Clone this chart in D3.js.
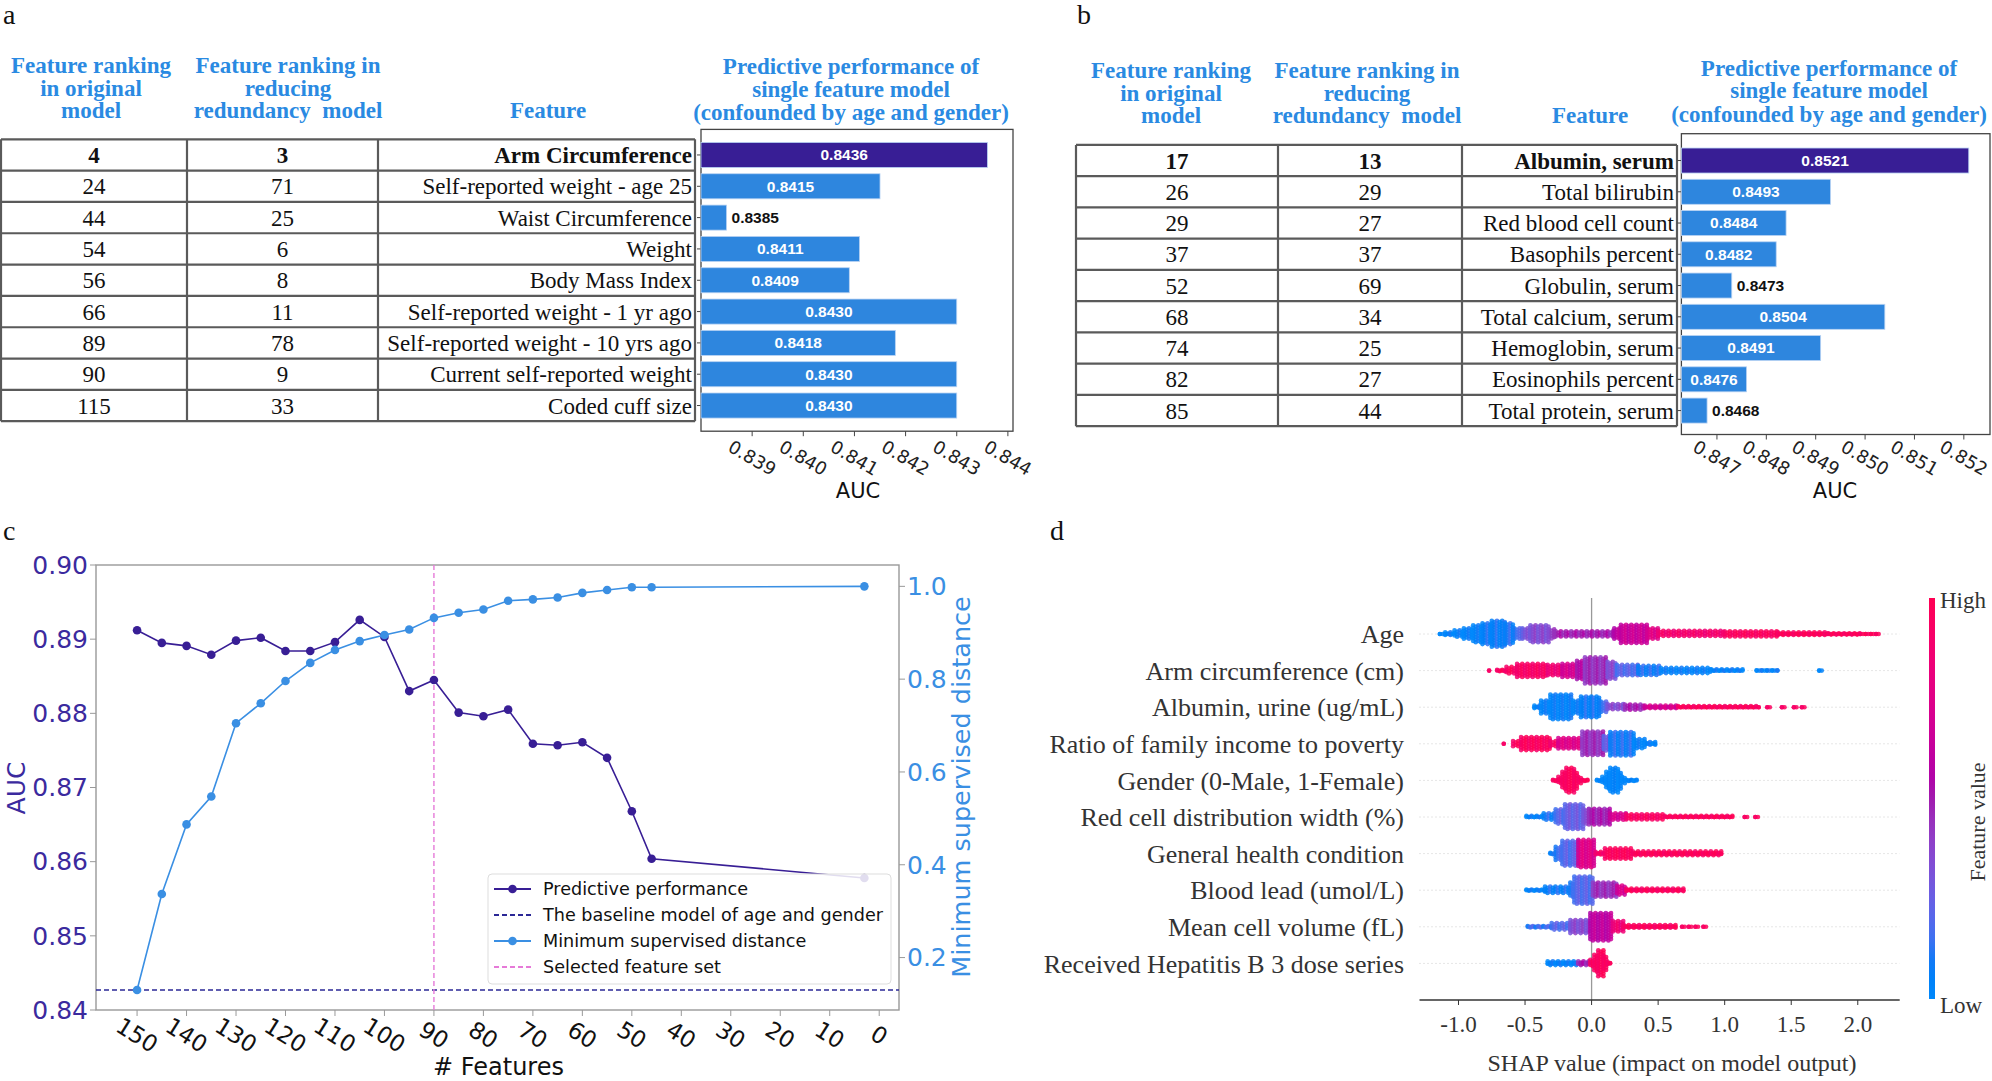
<!DOCTYPE html>
<html>
<head>
<meta charset="utf-8">
<script src="https://cdn.jsdelivr.net/npm/d3@7"></script>
<style>
  body { margin: 0; background: #fff; }
  svg { display: block; }
</style>
</head>
<body>
<svg id="fig" width="1992" height="1081"></svg>
<script>
// ---- panel a : table + single feature AUC
const rankOrigA = [4, 24, 44, 54, 56, 66, 89, 90, 115];
const rankRedA = [3, 71, 25, 6, 8, 11, 78, 9, 33];
const featA = ["Arm Circumference", "Self-reported weight - age 25", "Waist Circumference", "Weight",
  "Body Mass Index", "Self-reported weight - 1 yr ago", "Self-reported weight - 10 yrs ago",
  "Current self-reported weight", "Coded cuff size"];
const aucA = [0.8436, 0.8415, 0.8385, 0.8411, 0.8409, 0.8430, 0.8418, 0.8430, 0.8430];
const ticksA = [0.839, 0.840, 0.841, 0.842, 0.843, 0.844];
const domainA = [0.838, 0.8441];

// ---- panel b
const rankOrigB = [17, 26, 29, 37, 52, 68, 74, 82, 85];
const rankRedB = [13, 29, 27, 37, 69, 34, 25, 27, 44];
const featB = ["Albumin, serum", "Total bilirubin", "Red blood cell count", "Basophils percent",
  "Globulin, serum", "Total calcium, serum", "Hemoglobin, serum", "Eosinophils percent", "Total protein, serum"];
const aucB = [0.8521, 0.8493, 0.8484, 0.8482, 0.8473, 0.8504, 0.8491, 0.8476, 0.8468];
const ticksB = [0.847, 0.848, 0.849, 0.850, 0.851, 0.852];
const domainB = [0.84628, 0.85253];

const headCol1 = ["Feature ranking", "in original", "model"];
const headCol2 = ["Feature ranking in", "reducing", "redundancy  model"];
const headPred = ["Predictive performance of", "single feature model", "(confounded by age and gender)"];

// ---- panel c : feature elimination curve
const nFeatures = [150, 145, 140, 135, 130, 125, 120, 115, 110, 105, 100, 95, 90, 85, 80, 75, 70, 65, 60, 55, 50, 46, 3];
const aucCurve = [0.8912, 0.8895, 0.8891, 0.8879, 0.8898, 0.8902, 0.8884, 0.8884, 0.8896, 0.8926, 0.8903,
  0.8830, 0.8845, 0.8801, 0.8796, 0.8805, 0.8759, 0.8757, 0.8761, 0.8740, 0.8668, 0.8604, 0.8578];
const minDist = [0.130, 0.337, 0.487, 0.547, 0.705, 0.748, 0.796, 0.835, 0.863, 0.882, 0.895,
  0.907, 0.932, 0.943, 0.950, 0.969, 0.972, 0.976, 0.986, 0.992, 0.998, 0.998, 1.0];
const baselineAuc = 0.8427;
const selectedN = 90;
const aucTicks = [0.84, 0.85, 0.86, 0.87, 0.88, 0.89, 0.90];
const distTicks = [0.2, 0.4, 0.6, 0.8, 1.0];
const featTicks = [150, 140, 130, 120, 110, 100, 90, 80, 70, 60, 50, 40, 30, 20, 10, 0];
const legendC = ["Predictive performance", "The baseline model of age and gender", "Minimum supervised distance", "Selected feature set"];

// ---- panel d : SHAP summary, density profile read per feature
// segment = [shap from, shap to, half thickness (px), feature value 0..1]
const shapFeatures = ["Age", "Arm circumference (cm)", "Albumin, urine (ug/mL)", "Ratio of family income to poverty",
  "Gender (0-Male, 1-Female)", "Red cell distribution width (%)", "General health condition",
  "Blood lead (umol/L)", "Mean cell volume (fL)", "Received Hepatitis B 3 dose series"];
const shapProfiles = [
  [[-1.14, -1.10, 2, 0.05], [-1.10, -1.03, 4, 0.05], [-1.03, -0.96, 6, 0.05], [-0.96, -0.89, 8, 0.05],
   [-0.89, -0.82, 11, 0.05], [-0.82, -0.75, 13, 0.08], [-0.75, -0.65, 15.5, 0.08], [-0.65, -0.58, 13, 0.1],
   [-0.58, -0.52, 8, 0.15], [-0.52, -0.46, 8, 0.3], [-0.46, -0.32, 11, 0.35], [-0.32, -0.27, 7, 0.4],
   [-0.27, 0.17, 5, 0.5], [0.17, 0.22, 8, 0.6], [0.22, 0.42, 11.5, 0.65], [0.42, 0.5, 8, 0.75],
   [0.5, 1.0, 5.5, 0.88], [1.0, 1.4, 5, 0.95], [1.4, 1.78, 4, 0.97], [1.78, 2.02, 3, 0.97], [2.02, 2.17, 2, 0.97]],
  [[-0.77, -0.76, 2, 0.97], [-0.71, -0.64, 3, 0.95], [-0.64, -0.56, 6, 0.95], [-0.56, -0.33, 9, 0.92],
   [-0.33, -0.22, 8, 0.85], [-0.22, -0.11, 9, 0.7], [-0.11, -0.05, 12, 0.55], [-0.05, 0.12, 15.5, 0.45],
   [0.12, 0.19, 11, 0.35], [0.19, 0.35, 8, 0.2], [0.35, 0.52, 7, 0.1], [0.52, 0.9, 5, 0.05],
   [0.9, 1.15, 3.5, 0.05], [1.24, 1.40, 2.5, 0.05], [1.71, 1.73, 2, 0.05]],
  [[-0.43, -0.38, 4, 0.05], [-0.38, -0.31, 9, 0.05], [-0.31, -0.14, 15, 0.05], [-0.14, -0.08, 9, 0.05],
   [-0.08, 0.07, 13, 0.08], [0.07, 0.12, 8, 0.15], [0.12, 0.25, 5.5, 0.35], [0.25, 0.4, 5, 0.5],
   [0.4, 0.65, 4, 0.7], [0.65, 1.27, 3.5, 0.95], [1.32, 1.34, 2, 0.95], [1.43, 1.45, 2, 0.95],
   [1.52, 1.54, 2, 0.95], [1.58, 1.60, 2, 0.95]],
  [[-0.66, -0.65, 2, 0.97], [-0.59, -0.53, 5, 0.95], [-0.53, -0.31, 9, 0.95], [-0.31, -0.25, 5, 0.9],
   [-0.25, -0.07, 8, 0.75], [-0.07, 0.09, 14.5, 0.45], [0.09, 0.14, 10, 0.25], [0.14, 0.32, 14, 0.1],
   [0.32, 0.4, 7, 0.05], [0.4, 0.48, 4, 0.05]],
  [[-0.29, -0.25, 3, 0.97], [-0.25, -0.22, 6, 0.97], [-0.22, -0.19, 11, 0.97], [-0.19, -0.13, 15, 0.97],
   [-0.13, -0.10, 11, 0.97], [-0.10, -0.07, 6, 0.97], [-0.07, -0.03, 3, 0.97],
   [0.04, 0.08, 3, 0.03], [0.08, 0.11, 6, 0.03], [0.11, 0.14, 11, 0.03], [0.14, 0.20, 15, 0.03],
   [0.20, 0.23, 11, 0.03], [0.23, 0.26, 6, 0.03], [0.26, 0.34, 3, 0.03]],
  [[-0.49, -0.36, 3.5, 0.05], [-0.36, -0.27, 6, 0.1], [-0.27, -0.2, 10, 0.2], [-0.2, -0.06, 15, 0.25],
   [-0.06, -0.02, 10, 0.35], [-0.02, 0.14, 10.5, 0.5], [0.14, 0.26, 6, 0.7], [0.26, 0.55, 5, 0.93],
   [0.55, 1.06, 3.5, 0.96], [1.15, 1.17, 2, 0.97], [1.23, 1.25, 2, 0.97]],
  [[-0.31, -0.27, 3, 0.1], [-0.27, -0.22, 9, 0.15], [-0.22, -0.1, 15, 0.2], [-0.1, 0.03, 16, 0.75],
   [0.03, 0.1, 4, 0.9], [0.1, 0.31, 7.5, 0.97], [0.31, 0.99, 4.5, 0.97]],
  [[-0.49, -0.35, 3, 0.05], [-0.35, -0.16, 6, 0.08], [-0.16, -0.13, 10, 0.15], [-0.13, 0.01, 16, 0.2],
   [0.01, 0.19, 10, 0.45], [0.19, 0.26, 7, 0.7], [0.26, 0.69, 4, 0.95]],
  [[-0.48, -0.3, 3, 0.15], [-0.3, -0.16, 6, 0.2], [-0.16, -0.01, 9, 0.35], [-0.01, 0.16, 16, 0.6],
   [0.16, 0.24, 8, 0.85], [0.24, 0.64, 4, 0.95], [0.68, 0.70, 2, 0.97], [0.73, 0.75, 2, 0.97],
   [0.78, 0.80, 2, 0.97], [0.84, 0.86, 2, 0.97]],
  [[-0.33, -0.1, 4.5, 0.05], [-0.1, -0.01, 4.5, 0.5], [-0.01, 0.02, 6, 0.97], [0.02, 0.05, 11, 0.97],
   [0.05, 0.09, 15.5, 0.97], [0.09, 0.12, 10, 0.97], [0.12, 0.15, 4, 0.97]]
];
const shapTicks = [-1.0, -0.5, 0.0, 0.5, 1.0, 1.5, 2.0];

// colours / fonts
const headBlue = "#2a8ae2";
const barBlue = "#2e86de";
const darkPurple = "#381e95";
const curveBlue = "#3a8fe3";
const serif = "Liberation Serif, serif";
const sans = "DejaVu Sans, sans-serif";

// shap style red-blue map: lightness dips in the middle
function shapColor(t) {
  t = Math.max(0, Math.min(1, t));
  const l = t < 0.5 ? 54 - 28 * t : 40 + 28 * (t - 0.5);
  const c = 70 + 20 * t;
  const h = 267 + 113 * t;
  return d3.hcl(h, c, l).formatHex();
}

const svg = d3.select("#fig");
svg.append("rect").attr("width", 1992).attr("height", 1081).attr("fill", "#fff");

function panelLetter(x, y, t) {
  svg.append("text").attr("x", x).attr("y", y).attr("font-family", serif)
    .attr("font-size", 28).attr("fill", "#111").text(t);
}

// table + bar panel (a and b)
function drawTablePanel(o) {
  const g = svg.append("g");
  const rowH = (o.tBot - o.tTop) / o.feat.length;

  // column headers
  const hdr = (lines, x, ys) => lines.forEach((l, i) => {
    g.append("text").attr("x", x).attr("y", ys[i]).attr("dy", "0.35em")
      .attr("text-anchor", "middle").attr("font-family", serif).attr("font-weight", "bold")
      .attr("font-size", 23).attr("fill", headBlue).style("white-space", "pre").text(l);
  });
  hdr(headCol1, o.hx[0], o.hy);
  hdr(headCol2, o.hx[1], o.hy);
  hdr(["Feature"], o.hx[2], [o.hy[2]]);
  hdr(headPred, o.hx[3], o.py);

  // table grid
  const cols = o.colX;
  for (let i = 0; i <= o.feat.length; i++) {
    g.append("line").attr("x1", cols[0]).attr("x2", cols[3])
      .attr("y1", o.tTop + i * rowH).attr("y2", o.tTop + i * rowH)
      .attr("stroke", "#5a5a5a").attr("stroke-width", 2.2);
  }
  cols.forEach(cx => {
    g.append("line").attr("x1", cx).attr("x2", cx).attr("y1", o.tTop).attr("y2", o.tBot)
      .attr("stroke", "#5a5a5a").attr("stroke-width", 2.2);
  });
  o.feat.forEach((f, i) => {
    const cy = o.tTop + (i + 0.5) * rowH;
    const w = i === 0 ? "bold" : "normal";
    const cell = (x, anchor, t) => g.append("text").attr("x", x).attr("y", cy).attr("dy", "0.35em")
      .attr("text-anchor", anchor).attr("font-family", serif).attr("font-size", 23)
      .attr("font-weight", w).attr("fill", "#111").text(t);
    cell((cols[0] + cols[1]) / 2, "middle", o.r1[i]);
    cell((cols[1] + cols[2]) / 2, "middle", o.r2[i]);
    cell(cols[3] - 3, "end", f);
  });

  // bar axes
  const x = d3.scaleLinear().domain(o.domain).range([o.fL, o.fR]);
  const y = d3.scaleBand().domain(d3.range(o.feat.length)).range([o.tTop, o.tBot])
    .paddingInner(0.2).paddingOuter(0.1);
  g.append("rect").attr("x", o.fL).attr("y", o.fT).attr("width", o.fR - o.fL).attr("height", o.fB - o.fT)
    .attr("fill", "none").attr("stroke", "#444").attr("stroke-width", 1.3);
  o.auc.forEach((v, i) => {
    const yy = y(i), bw = x(v) - x(o.domain[0]);
    g.append("line").attr("x1", o.fL - 4).attr("x2", o.fL).attr("y1", yy + y.bandwidth() / 2)
      .attr("y2", yy + y.bandwidth() / 2).attr("stroke", "#444");
    g.append("rect").attr("x", x(o.domain[0])).attr("y", yy).attr("width", bw).attr("height", y.bandwidth())
      .attr("fill", i === 0 ? darkPurple : barBlue).attr("stroke", "#b9d3f3").attr("stroke-width", 0.8);
    const lab = v.toFixed(4);
    const inside = bw > 62;
    g.append("text").attr("x", inside ? x(o.domain[0]) + bw / 2 : x(v) + 5)
      .attr("y", yy + y.bandwidth() / 2).attr("dy", "0.35em")
      .attr("text-anchor", inside ? "middle" : "start").attr("font-family", "Liberation Sans, Arial, sans-serif")
      .attr("font-weight", "bold").attr("font-size", 15.5).attr("fill", inside ? "#fff" : "#111").text(lab);
  });
  o.ticks.forEach(t => {
    g.append("line").attr("x1", x(t)).attr("x2", x(t)).attr("y1", o.fB).attr("y2", o.fB + 5)
      .attr("stroke", "#444");
    g.append("text").attr("transform", `translate(${x(t)},458) rotate(30)`)
      .attr("text-anchor", "middle").attr("dy", "0.35em").attr("font-family", sans)
      .attr("font-size", 18).attr("fill", "#222").text(t.toFixed(3));
  });
  g.append("text").attr("x", o.aucX).attr("y", 491).attr("dy", "0.35em").attr("text-anchor", "middle")
    .attr("font-family", sans).attr("font-size", 21).attr("fill", "#111").text("AUC");
}

panelLetter(3, 24, "a");
drawTablePanel({
  feat: featA, r1: rankOrigA, r2: rankRedA, auc: aucA, ticks: ticksA, domain: domainA,
  colX: [1, 187, 378, 695], tTop: 139.3, tBot: 421.2,
  fL: 701, fR: 1013, fT: 129.4, fB: 431.2,
  hx: [91, 288, 548, 851], hy: [64.7, 87.9, 110.4], py: [66.3, 88.9, 112.1], aucX: 858
});
panelLetter(1077, 24, "b");
drawTablePanel({
  feat: featB, r1: rankOrigB, r2: rankRedB, auc: aucB, ticks: ticksB, domain: domainB,
  colX: [1076, 1278, 1462, 1677], tTop: 144.9, tBot: 426.2,
  fL: 1681.4, fR: 1990, fT: 133.7, fB: 434.5,
  hx: [1171, 1367, 1590, 1829], hy: [70.3, 92.9, 115.4], py: [68, 90.2, 114.4], aucX: 1835
});

// ---- panel c
panelLetter(3, 540, "c");
(function () {
  const g = svg.append("g");
  const L = 96, R = 899, T = 565, B = 1010;
  const x = d3.scaleLinear().domain([158.3, -4]).range([L, R]);
  const yL = d3.scaleLinear().domain([0.84, 0.90]).range([B, T]);
  const yR = d3.scaleLinear().domain([0.087, 1.046]).range([B, T]);

  g.append("rect").attr("x", L).attr("y", T).attr("width", R - L).attr("height", B - T)
    .attr("fill", "none").attr("stroke", "#999").attr("stroke-width", 1.4);

  aucTicks.forEach(t => {
    g.append("line").attr("x1", L - 6).attr("x2", L).attr("y1", yL(t)).attr("y2", yL(t)).attr("stroke", "#999");
    g.append("text").attr("x", L - 8).attr("y", yL(t)).attr("dy", "0.35em").attr("text-anchor", "end")
      .attr("font-family", sans).attr("font-size", 25).attr("fill", "#3b2a9e").text(t.toFixed(2));
  });
  distTicks.forEach(t => {
    g.append("line").attr("x1", R).attr("x2", R + 6).attr("y1", yR(t)).attr("y2", yR(t)).attr("stroke", "#999");
    g.append("text").attr("x", R + 8).attr("y", yR(t)).attr("dy", "0.35em").attr("text-anchor", "start")
      .attr("font-family", sans).attr("font-size", 25).attr("fill", curveBlue).text(t.toFixed(1));
  });
  featTicks.forEach(t => {
    g.append("line").attr("x1", x(t)).attr("x2", x(t)).attr("y1", B).attr("y2", B + 6).attr("stroke", "#999");
    g.append("text").attr("transform", `translate(${x(t)},${B + 25}) rotate(32)`).attr("dy", "0.35em")
      .attr("text-anchor", "middle").attr("font-family", sans).attr("font-size", 23).attr("fill", "#111").text(t);
  });
  g.append("text").attr("x", (L + R) / 2 + 1).attr("y", 1067).attr("dy", "0.35em").attr("text-anchor", "middle")
    .attr("font-family", sans).attr("font-size", 24).attr("fill", "#111").text("# Features");
  g.append("text").attr("transform", `translate(16,788) rotate(-90)`).attr("dy", "0.35em")
    .attr("text-anchor", "middle").attr("font-family", sans).attr("font-size", 25)
    .attr("fill", "#3b2a9e").text("AUC");
  g.append("text").attr("transform", `translate(961,787) rotate(-90)`).attr("dy", "0.35em")
    .attr("text-anchor", "middle").attr("font-family", sans).attr("font-size", 25.5)
    .attr("fill", curveBlue).text("Minimum supervised distance");

  // baseline and selected set
  g.append("line").attr("x1", L).attr("x2", R).attr("y1", yL(baselineAuc)).attr("y2", yL(baselineAuc))
    .attr("stroke", "#2b2896").attr("stroke-width", 1.6).attr("stroke-dasharray", "5,3");
  g.append("line").attr("x1", x(selectedN)).attr("x2", x(selectedN)).attr("y1", T).attr("y2", B)
    .attr("stroke", "#e67ad8").attr("stroke-width", 1.4).attr("stroke-dasharray", "5,3");

  const lineAuc = d3.line().x((d, i) => x(nFeatures[i])).y(d => yL(d));
  const lineDist = d3.line().x((d, i) => x(nFeatures[i])).y(d => yR(d));
  g.append("path").attr("d", lineAuc(aucCurve)).attr("fill", "none").attr("stroke", darkPurple).attr("stroke-width", 1.6);
  g.selectAll(".pa").data(aucCurve).enter().append("circle")
    .attr("cx", (d, i) => x(nFeatures[i])).attr("cy", d => yL(d)).attr("r", 4.3).attr("fill", darkPurple);
  g.append("path").attr("d", lineDist(minDist)).attr("fill", "none").attr("stroke", curveBlue).attr("stroke-width", 1.6);
  g.selectAll(".pd").data(minDist).enter().append("circle")
    .attr("cx", (d, i) => x(nFeatures[i])).attr("cy", d => yR(d)).attr("r", 4.3).attr("fill", curveBlue);

  // legend
  const lg = g.append("g");
  lg.append("rect").attr("x", 488).attr("y", 874).attr("width", 403).attr("height", 110).attr("rx", 4)
    .attr("fill", "#fff").attr("fill-opacity", 0.85).attr("stroke", "#ddd");
  const styles = [
    { c: darkPurple, dash: null, m: true },
    { c: "#2b2896", dash: "5,3", m: false },
    { c: curveBlue, dash: null, m: true },
    { c: "#e67ad8", dash: "5,3", m: false }
  ];
  legendC.forEach((t, i) => {
    const yy = 889 + i * 26;
    lg.append("line").attr("x1", 494).attr("x2", 531).attr("y1", yy).attr("y2", yy)
      .attr("stroke", styles[i].c).attr("stroke-width", 1.8).attr("stroke-dasharray", styles[i].dash);
    if (styles[i].m) lg.append("circle").attr("cx", 512.5).attr("cy", yy).attr("r", 4.3).attr("fill", styles[i].c);
    lg.append("text").attr("x", 543).attr("y", yy).attr("dy", "0.35em").attr("font-family", sans)
      .attr("font-size", 17.6).attr("fill", "#111").text(t);
  });
})();

// ---- panel d
panelLetter(1050, 540, "d");
(function () {
  const g = svg.append("g");
  const x = d3.scaleLinear().domain([-1.293, 2.315]).range([1419.5, 1899.7]);
  const y = d3.scalePoint().domain(shapFeatures).range([634, 963.4]);

  shapFeatures.forEach(f => {
    g.append("line").attr("x1", 1419.5).attr("x2", 1899.7).attr("y1", y(f)).attr("y2", y(f))
      .attr("stroke", "#ccc").attr("stroke-width", 1).attr("stroke-dasharray", "1,3");
    g.append("text").attr("x", 1404).attr("y", y(f)).attr("dy", "0.35em").attr("text-anchor", "end")
      .attr("font-family", serif).attr("font-size", 26).attr("fill", "#333").text(f);
  });
  g.append("line").attr("x1", x(0)).attr("x2", x(0)).attr("y1", 598).attr("y2", 1000)
    .attr("stroke", "#999").attr("stroke-width", 1.3);

  // dots: fill each profile segment on a staggered grid
  const r = 2.3, step = 2.6;
  const dots = [];
  shapProfiles.forEach((segs, fi) => {
    const cy = y(shapFeatures[fi]);
    segs.forEach(s => {
      const x0 = x(s[0]), x1 = x(s[1]);
      const h = Math.max(0, s[2] - r);
      let ci = 0;
      for (let px = x0; px <= x1 + 0.01 || ci === 0; px += step, ci++) {
        const off = (ci % 2) * step / 2;
        for (let dy = -h + off; dy <= h + 0.01; dy += step) {
          dots.push({ x: px, y: cy + dy, v: s[3], k: ci });
        }
        if (h < step) dots.push({ x: px, y: cy, v: s[3], k: ci });
        if (x1 - x0 < step) break;
      }
    });
  });
  g.append("g").selectAll("circle").data(dots).enter().append("circle")
    .attr("cx", d => d.x).attr("cy", d => d.y).attr("r", r)
    .attr("fill", d => shapColor(d.v + ((d.k % 3) - 1) * 0.05))
    .attr("fill-opacity", 0.85);

  // x axis
  g.append("line").attr("x1", 1419.5).attr("x2", 1899.7).attr("y1", 1000).attr("y2", 1000)
    .attr("stroke", "#333").attr("stroke-width", 1.3);
  shapTicks.forEach(t => {
    g.append("line").attr("x1", x(t)).attr("x2", x(t)).attr("y1", 1000).attr("y2", 1005).attr("stroke", "#333");
    g.append("text").attr("x", x(t)).attr("y", 1024).attr("dy", "0.35em").attr("text-anchor", "middle")
      .attr("font-family", serif).attr("font-size", 23).attr("fill", "#333").text(t.toFixed(1));
  });
  g.append("text").attr("x", 1672).attr("y", 1063).attr("dy", "0.35em").attr("text-anchor", "middle")
    .attr("font-family", serif).attr("font-size", 24).attr("fill", "#333").text("SHAP value (impact on model output)");

  // colour bar
  const grad = svg.append("defs").append("linearGradient").attr("id", "cb")
    .attr("x1", 0).attr("y1", 1).attr("x2", 0).attr("y2", 0);
  d3.range(0, 1.001, 0.05).forEach(t => grad.append("stop").attr("offset", t).attr("stop-color", shapColor(t)));
  g.append("rect").attr("x", 1929).attr("y", 598).attr("width", 6).attr("height", 401).attr("fill", "url(#cb)");
  g.append("text").attr("x", 1940).attr("y", 600).attr("dy", "0.35em").attr("font-family", serif)
    .attr("font-size", 23).attr("fill", "#333").text("High");
  g.append("text").attr("x", 1940).attr("y", 1005).attr("dy", "0.35em").attr("font-family", serif)
    .attr("font-size", 23).attr("fill", "#333").text("Low");
  g.append("text").attr("transform", "translate(1977,822) rotate(-90)").attr("dy", "0.35em")
    .attr("text-anchor", "middle").attr("font-family", serif).attr("font-size", 22).attr("fill", "#333")
    .text("Feature value");
})();
</script>
</body>
</html>
